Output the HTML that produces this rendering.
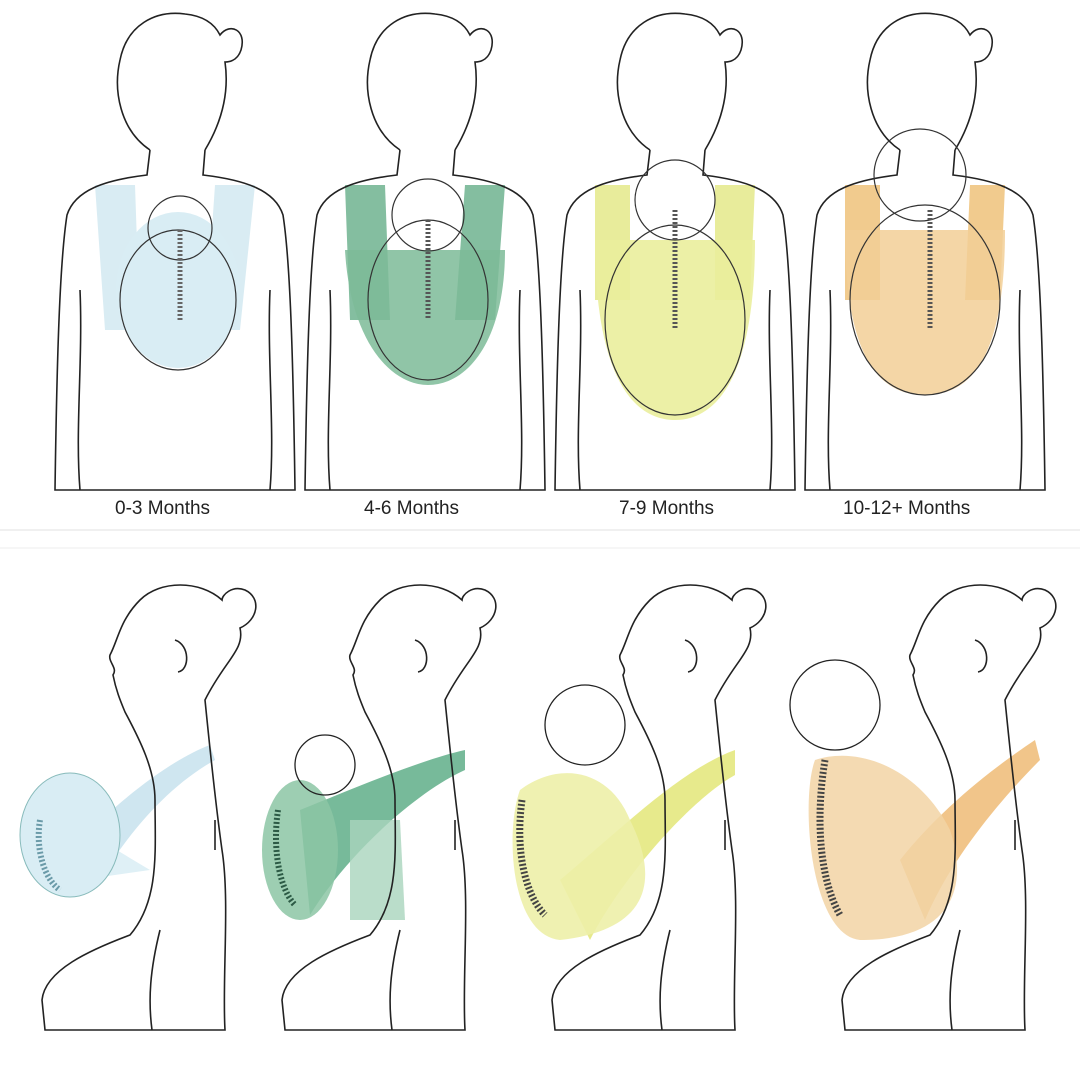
<!DOCTYPE html>
<html><head><meta charset="utf-8"><style>
html,body{margin:0;padding:0;background:#fff;}
svg{display:block}
text{font-family:"Liberation Sans",sans-serif;font-size:19px;fill:#222}
</style></head><body>
<svg width="1080" height="1080" viewBox="0 0 1080 1080" xmlns="http://www.w3.org/2000/svg">
<defs>
<g id="front" fill="none" stroke="#222" stroke-width="1.6">
  <path d="M-25,150 C-55,130 -62,90 -55,60 C-48,25 -20,10 10,14 C30,16 40,25 45,35 C55,22 72,30 66,50 C62,62 52,62 50,62 C54,90 48,120 30,150"/>
  <path d="M-25,150 L-28,175 C-70,180 -100,190 -108,215 C-115,260 -118,350 -120,490 L120,490 C118,350 115,260 108,215 C100,190 70,180 28,175 L30,150"/>
  <path d="M-95,290 C-92,360 -100,430 -95,490"/>
  <path d="M95,290 C92,360 100,430 95,490"/>
</g>
<g id="side" fill="none" stroke="#222" stroke-width="1.6">
  <path d="M205,700 C225,660 245,650 240,628 C258,620 262,598 245,590 C232,585 222,595 222,600 C200,580 160,580 140,600 C120,620 118,640 110,655 C108,662 118,668 113,675 C116,690 120,700 125,712 C140,740 155,770 155,800 C155,850 160,900 130,935 C90,950 45,970 42,1000 L45,1030 L225,1030 C222,980 230,900 222,850 C215,800 210,750 205,700 Z"/>
  <path d="M175,640 C190,645 190,670 178,672"/>
  <path d="M215,820 L215,850"/>
  <path d="M160,930 C150,970 148,1000 152,1030"/>
</g>
</defs>

<g>
  <path d="M95,185 L135,185 L140,330 L105,330 Z M215,185 L255,185 L240,330 L205,330 Z" fill="#cfe7f0" opacity="0.8"/>
  <ellipse cx="178" cy="290" rx="62" ry="78" fill="#d9edf4"/>
  <use href="#front" x="175" y="0"/>
  <circle cx="180" cy="228" r="32" fill="none" stroke="#333" stroke-width="1.2"/>
  <ellipse cx="178" cy="300" rx="58" ry="70" fill="none" stroke="#333" stroke-width="1.2"/>
  <path d="M180,230 L180,320" stroke="#666" stroke-width="5" stroke-dasharray="2 2"/>
  <text x="115" y="514">0-3 Months</text>

  <path d="M345,185 L385,185 L390,320 L350,320 Z M465,185 L505,185 L495,320 L455,320 Z" fill="#6fb38f" opacity="0.85"/>
  <path d="M345,250 C350,340 390,385 428,385 C468,385 505,340 505,250 Z" fill="#7dbb98" opacity="0.85"/>
  <use href="#front" x="425" y="0"/>
  <circle cx="428" cy="215" r="36" fill="none" stroke="#333" stroke-width="1.2"/>
  <ellipse cx="428" cy="300" rx="60" ry="80" fill="none" stroke="#333" stroke-width="1.2"/>
  <path d="M428,220 L428,320" stroke="#555" stroke-width="5" stroke-dasharray="2 2"/>
  <text x="364" y="514">4-6 Months</text>

  <path d="M595,185 L630,185 L630,300 L595,300 Z M715,185 L755,185 L750,300 L715,300 Z" fill="#e4e98a" opacity="0.85"/>
  <path d="M595,240 C595,370 630,420 675,420 C720,420 755,370 755,240 Z" fill="#eaee9c" opacity="0.9"/>
  <use href="#front" x="675" y="0"/>
  <circle cx="675" cy="200" r="40" fill="none" stroke="#333" stroke-width="1.2"/>
  <ellipse cx="675" cy="320" rx="70" ry="95" fill="none" stroke="#333" stroke-width="1.2"/>
  <path d="M675,210 L675,330" stroke="#555" stroke-width="5" stroke-dasharray="2 2"/>
  <text x="619" y="514">7-9 Months</text>

  <path d="M845,185 L880,185 L880,300 L845,300 Z M970,185 L1005,185 L1000,300 L965,300 Z" fill="#efc27a" opacity="0.85"/>
  <path d="M845,230 C845,360 880,395 925,395 C970,395 1005,360 1005,230 Z" fill="#f2cf96" opacity="0.85"/>
  <use href="#front" x="925" y="0"/>
  <circle cx="920" cy="175" r="46" fill="none" stroke="#333" stroke-width="1.2"/>
  <ellipse cx="925" cy="300" rx="75" ry="95" fill="none" stroke="#333" stroke-width="1.2"/>
  <path d="M930,210 L930,330" stroke="#555" stroke-width="5" stroke-dasharray="2 2"/>
  <text x="843" y="514">10-12+ Months</text>
</g>

<line x1="0" y1="530" x2="1080" y2="530" stroke="#f0f0f0" stroke-width="2"/>
<line x1="0" y1="548" x2="1080" y2="548" stroke="#eeeeee" stroke-width="1"/>

<g>
  <path d="M80,840 C120,800 170,760 210,745 L215,760 C170,785 130,830 100,880 Z" fill="#cfe6f0"/>
  <path d="M100,840 L150,870 L80,880 Z" fill="#dff0f6"/>
  <ellipse cx="70" cy="835" rx="50" ry="62" fill="#d9edf4" stroke="#8bb" stroke-width="1"/>
  <use href="#side" x="0" y="0"/>
  <path d="M40,820 C35,850 45,880 60,890" stroke="#6a9aa8" stroke-width="6" stroke-dasharray="2 2" fill="none"/>

  <path d="M300,810 C350,790 420,760 465,750 L465,770 C420,790 350,850 310,915 Z" fill="#5fae88" opacity="0.85"/>
  <path d="M350,820 L400,820 L405,920 L350,920 Z" fill="#a9d4bd" opacity="0.8"/>
  <ellipse cx="300" cy="850" rx="38" ry="70" fill="#8cc5a5" opacity="0.85"/>
  <use href="#side" x="240" y="0"/>
  <circle cx="325" cy="765" r="30" fill="none" stroke="#222" stroke-width="1.3"/>
  <path d="M278,810 C272,850 280,890 295,905" stroke="#2c5a45" stroke-width="6" stroke-dasharray="2 2" fill="none"/>

  <path d="M560,880 C620,830 680,770 735,750 L735,775 C690,800 620,880 590,940 Z" fill="#e4e880" opacity="0.9"/>
  <path d="M520,790 C560,760 610,770 630,820 C660,880 650,930 560,940 C510,935 505,830 520,790 Z" fill="#edf0a8" opacity="0.9"/>
  <use href="#side" x="510" y="0"/>
  <circle cx="585" cy="725" r="40" fill="none" stroke="#222" stroke-width="1.3"/>
  <path d="M522,800 C515,850 525,895 545,915" stroke="#444" stroke-width="7" stroke-dasharray="2 2" fill="none"/>

  <path d="M900,860 C940,810 990,770 1035,740 L1040,760 C1000,800 950,860 925,920 Z" fill="#eebb75" opacity="0.85"/>
  <path d="M815,760 C860,745 920,770 950,830 C970,890 950,940 860,940 C810,935 800,800 815,760 Z" fill="#f2d3a4" opacity="0.85"/>
  <use href="#side" x="800" y="0"/>
  <circle cx="835" cy="705" r="45" fill="none" stroke="#222" stroke-width="1.3"/>
  <path d="M825,760 C815,820 820,880 840,915" stroke="#444" stroke-width="7" stroke-dasharray="2 2" fill="none"/>
</g>
</svg>
</body></html>
